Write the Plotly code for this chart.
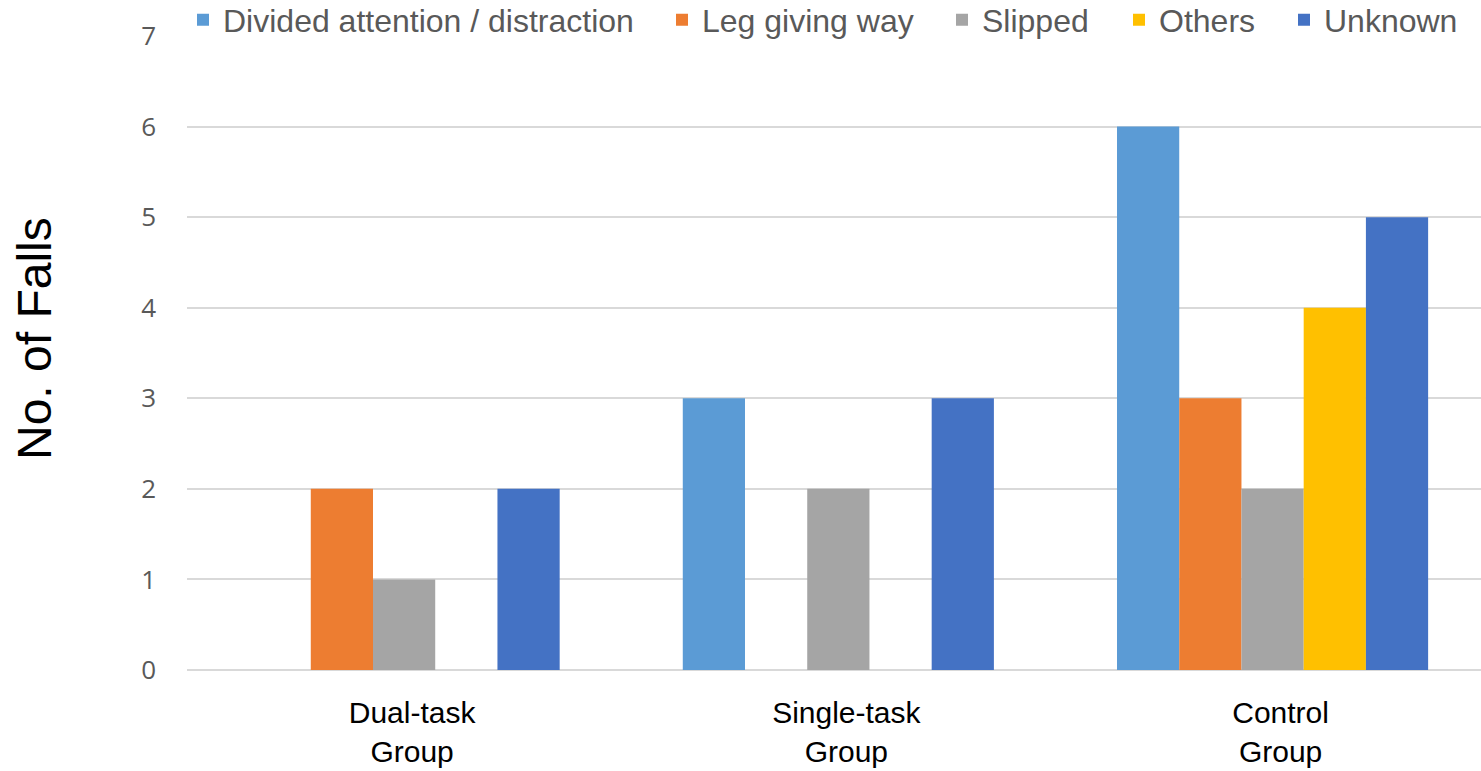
import plotly.graph_objects as go

# Fall counts by cause for each study group
groups = ["Dual-task<br>Group", "Single-task<br>Group", "Control<br>Group"]
divided_attention = [0, 3, 6]
leg_giving_way = [2, 0, 3]
slipped = [1, 2, 2]
others = [0, 0, 4]
unknown = [2, 3, 5]

y_ticks = [0, 1, 2, 3, 4, 5, 6, 7]

series = [
    ("Divided attention / distraction", divided_attention, "#5B9BD5"),
    ("Leg giving way", leg_giving_way, "#ED7D31"),
    ("Slipped", slipped, "#A5A5A5"),
    ("Others", others, "#FFC000"),
    ("Unknown", unknown, "#4472C4"),
]

# plot area geometry (pixels)
PLOT_L, PLOT_W = 187, 1294
PLOT_T, PLOT_H = 36, 634

# left edge of each legend entry, in pixels
legend_left_px = [183, 662, 942, 1119, 1284]

fig = go.Figure()
legend_layout = {}
for i, (name, vals, color) in enumerate(series):
    key = "legend" if i == 0 else f"legend{i + 1}"
    fig.add_trace(go.Bar(
        name=name, x=groups, y=vals, legend=key,
        marker=dict(color=color, line=dict(width=0)),
    ))
    legend_layout[key] = dict(
        orientation="h",
        x=(legend_left_px[i] - PLOT_L) / PLOT_W, xanchor="left",
        y=(PLOT_T + PLOT_H - 20) / PLOT_H, yanchor="middle",
        font=dict(size=32, color="#595959", family="Liberation Sans, Arial"),
        itemwidth=30, bgcolor="rgba(0,0,0,0)",
    )

fig.update_layout(
    width=1481, height=771,
    margin=dict(l=PLOT_L, r=0, t=PLOT_T, b=771 - PLOT_T - PLOT_H, autoexpand=False),
    paper_bgcolor="white", plot_bgcolor="white",
    barmode="group", bargap=0.2835, bargroupgap=0,
    font=dict(family="Liberation Sans, Arial", color="#000000"),
    showlegend=True,
    xaxis=dict(
        range=[-0.5, 2.48], showgrid=False, showline=False, zeroline=False,
        ticks="", ticklabelstandoff=22, ticklabelshift=8,
        tickfont=dict(size=30, color="#000000", family="Liberation Sans, Arial"),
    ),
    yaxis=dict(
        range=[0, 7], tickvals=y_ticks, showgrid=True, gridcolor="#D9D9D9",
        gridwidth=1.5, zeroline=True, zerolinecolor="#D9D9D9", zerolinewidth=1.5,
        showline=False, ticks="", ticklabelstandoff=30,
        tickfont=dict(size=26, color="#595959", family="Open Sans, Noto Sans"),
    ),
    annotations=[dict(
        text="No. of Falls", textangle=-90, showarrow=False,
        xref="paper", yref="paper", x=-(PLOT_L - 34) / PLOT_W,
        y=(PLOT_T + PLOT_H - 339) / PLOT_H,
        xanchor="center", yanchor="middle",
        font=dict(size=48, color="#000000", family="Liberation Sans, Arial"),
    )],
    **legend_layout,
)

fig.write_html("out.html")
